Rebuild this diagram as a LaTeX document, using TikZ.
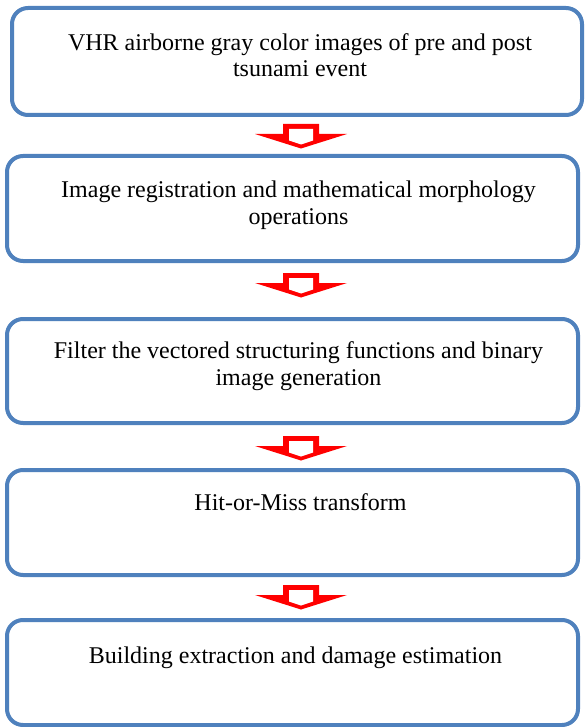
\documentclass[tikz,border=0pt]{standalone}
\usepackage{fontspec}
\setmainfont{Liberation Serif}
\usetikzlibrary{calc}
\definecolor{boxblue}{HTML}{4F81BD}
\begin{document}
\begin{tikzpicture}[x=1pt,y=-1pt,
  stepbox/.style={draw=boxblue, line width=4pt, rounded corners=16pt, inner sep=0pt, fill=white},
  steptext/.style={anchor=base, align=center, inner sep=0pt, font=\fontsize{24}{26.5}\selectfont},
  blockarr/.pic={
    \fill[red] (-18,0) -- (18,0) -- (18,10) -- (46,10) -- (0,24.5) -- (-46,10) -- (-18,10) -- cycle;
    \fill[white] (-12,5) -- (12,5) -- (12,16.5) -- (0,20.5) -- (-12,16.5) -- cycle;
  }]
\useasboundingbox (0,0) rectangle (584,727);
\node[stepbox, minimum width=570pt, minimum height=107pt] (b1) at (297,61.5) {};
\node[stepbox, minimum width=571pt, minimum height=105pt] (b2) at (292.5,208.5) {};
\node[stepbox, minimum width=571pt, minimum height=104pt] (b3) at (292.5,371) {};
\node[stepbox, minimum width=571pt, minimum height=105pt] (b4) at (292.5,522.5) {};
\node[stepbox, minimum width=571pt, minimum height=105pt] (b5) at (292.5,672.5) {};
\node[steptext] (t1) at ($(b1.north)+(3,71)$) {VHR airborne gray color images of pre and post\\tsunami event};
\node[steptext] (t2) at ($(b2.north)+(6,70)$) {Image registration and mathematical morphology\\operations};
\node[steptext] (t3) at ($(b3.north)+(6,68)$) {Filter the vectored structuring functions and binary\\image generation};
\node[steptext] (t4) at ($(b4.north)+(8,42)$) {Hit-or-Miss transform};
\node[steptext] (t5) at ($(b5.north)+(3,45)$) {Building extraction and damage estimation};
\pic (a1) at ($(b1.south)+(4,7)$) {blockarr};
\pic (a2) at ($(b2.south)+(8.5,10)$) {blockarr};
\pic (a3) at ($(b3.south)+(8.5,11)$) {blockarr};
\pic (a4) at ($(b4.south)+(8.5,8)$) {blockarr};
\end{tikzpicture}
\end{document}
